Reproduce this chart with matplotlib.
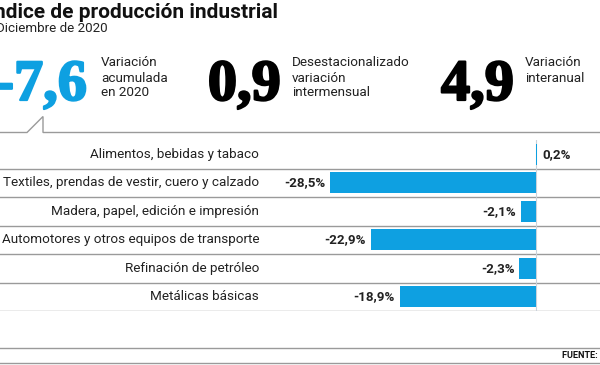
import matplotlib
matplotlib.use('Agg')
import matplotlib.pyplot as plt
import matplotlib.patheffects as pe

# datos
categorias = ['Alimentos, bebidas y tabaco',
              'Textiles, prendas de vestir, cuero y calzado',
              'Madera, papel, edición e impresión',
              'Automotores y otros equipos de transporte',
              'Refinación de petróleo',
              'Metálicas básicas']
variacion = [0.2, -28.5, -2.1, -22.9, -2.3, -18.9]
etiquetas = ['0,2%', '-28,5%', '-2,1%', '-22,9%', '-2,3%', '-18,9%']

destacados = ['-7,6', '0,9', '4,9']
textos_destacados = ['Variación\nacumulada\nen 2020',
                     'Desestacionalizado\nvariación\nintermensual',
                     'Variación\ninteranual']

azul = '#0ea0e1'
gris = '#9a9a9a'
sans = 'Roboto'
serif = 'Liberation Serif'

fig = plt.figure(figsize=(6, 3.65), dpi=100)

# capa de fondo en pixeles
bg = fig.add_axes([0, 0, 1, 1])
bg.set_xlim(0, 600)
bg.set_ylim(365, 0)
bg.axis('off')

bg.text(278, 17.5, 'Índice de producción industrial', ha='right', va='baseline',
        fontsize=15.0, fontweight='bold', family=sans, color='#111111')
bg.text(108, 32, 'Diciembre de 2020', ha='right', va='baseline',
        fontsize=9.6, family=sans, color='#222222')

pos_num = [87, 281, 514]
pos_txt = [101, 292, 525]
colores = [azul, 'black', 'black']
for num, txt, xn, xt, c in zip(destacados, textos_destacados, pos_num, pos_txt, colores):
    bg.text(xn, 100, num, ha='right', va='baseline', fontsize=42,
            fontweight='bold', family=serif, color=c,
            path_effects=[pe.withStroke(linewidth=1.6, foreground=c)])
    bg.text(xt, 56.5, txt, ha='left', va='top', fontsize=9.7, family=sans,
            color='#222222', linespacing=1.2)

# línea con el pico
bg.plot([0, 27, 43, 43, 600], [132.5, 132.5, 116.5, 132.5, 132.5],
        color=gris, lw=1.0, solid_joinstyle='miter')

# pie
bg.plot([0, 600], [348, 348], color=gris, lw=1.0)
bg.plot([0, 600], [363, 363], color=gris, lw=1.0)
bg.text(562, 358.5, 'FUENTE: INDEC', ha='left', va='baseline', fontsize=6.6,
        fontweight='bold', family=sans, color='#111111')

# barras
ax = fig.add_axes([0, (365 - 311) / 365, 1, 171 / 365])
ax.set_xlim(-536 / 7.22, 64 / 7.22)
ax.set_ylim(len(categorias) - 0.5, -0.5)
ax.axis('off')

y = list(range(len(categorias)))
ax.barh(y, variacion, height=0.72, color=azul, zorder=3)
ax.axvline(0, color='#c9d2da', lw=0.8, zorder=2)
for k in y:
    ax.axhline(k + 0.5, color=gris, lw=1.0, zorder=1)

for k, (v, lab, cat) in enumerate(zip(variacion, etiquetas, categorias)):
    ax.annotate(cat, xy=(0, k), xycoords=('axes fraction', 'data'),
                xytext=(259 * 0.72, 0), textcoords='offset points',
                ha='right', va='center', fontsize=9.7, family=sans, color='#222222')
    if v < 0:
        ax.annotate(lab, xy=(v, k), xytext=(-3.6, 0), textcoords='offset points',
                    ha='right', va='center', fontsize=9.6, fontweight='bold',
                    family=sans, color='#222222')
    else:
        ax.annotate(lab, xy=(v, k), xytext=(3.6, 0), textcoords='offset points',
                    ha='left', va='center', fontsize=9.6, fontweight='bold',
                    family=sans, color='#222222')

fig.savefig('out.png', dpi=100)
